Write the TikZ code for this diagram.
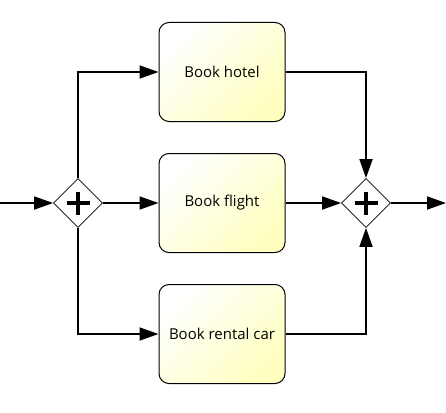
\documentclass[tikz,border=0pt]{standalone}
\usepackage{fontspec}
\setsansfont{Open Sans}
\usetikzlibrary{arrows.meta,shapes.geometric}
\definecolor{taskyellow}{RGB}{255,255,192}
\tikzset{
  task/.style={draw, rectangle, rounded corners=10pt, line width=1pt,
    minimum width=126pt, minimum height=99pt, inner sep=0pt,
    top color=white, bottom color=taskyellow, shading angle=45,
    font=\sffamily\fontsize{15}{18}\selectfont},
  gateway/.style={draw, diamond, line width=0.8pt, fill=white,
    minimum width=49pt, minimum height=49pt, inner sep=0pt,
    path picture={
      \draw[line width=3.4pt] ([xshift=-11.5pt]path picture bounding box.center) -- ([xshift=11.5pt]path picture bounding box.center);
      \draw[line width=3.4pt] ([yshift=-11.5pt]path picture bounding box.center) -- ([yshift=11.5pt]path picture bounding box.center);
    }},
  flow/.style={line width=1.8pt, -{Triangle[length=19pt,width=13pt]}}
}
\begin{document}
\begin{tikzpicture}[x=1pt,y=-1pt]
\useasboundingbox (0,0) rectangle (446,412);

\coordinate (in) at (0,203);
\coordinate (out) at (446,203);
\node[gateway] (split) at (78,203) {};
\node[gateway] (join) at (366,203) {};
\node[task] (hotel) at (222,72) {Book hotel};
\node[task] (flight) at (222,203) {Book flight};
\node[task] (car) at (222,334) {Book rental car};

\draw[flow] (in) -- (split);
\draw[flow] (split.north) |- (hotel);
\draw[flow] (split) -- (flight);
\draw[flow] (split.south) |- (car);
\draw[flow] (hotel) -| (join.north);
\draw[flow] (flight) -- (join);
\draw[flow] (car) -| (join.south);
\draw[flow] (join) -- (out);
\end{tikzpicture}
\end{document}
